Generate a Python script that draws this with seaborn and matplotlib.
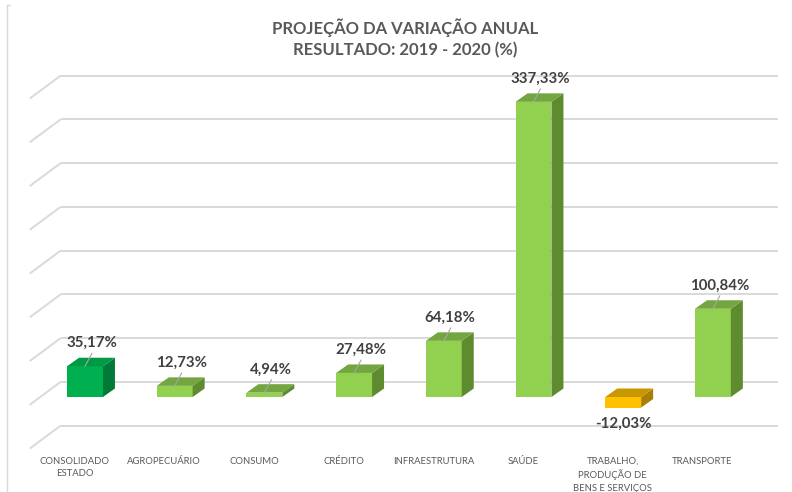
import matplotlib
matplotlib.use("Agg")
import matplotlib.pyplot as plt
import seaborn as sns
import pandas as pd
from matplotlib.patches import Polygon
from matplotlib.lines import Line2D

# ---------------- data ----------------
categories = ["CONSOLIDADO\nESTADO", "AGROPECUÁRIO", "CONSUMO", "CRÉDITO",
              "INFRAESTRUTURA", "SAÚDE", "TRABALHO,\nPRODUÇÃO DE\nBENS E SERVIÇOS",
              "TRANSPORTE"]
values = [35.17, 12.73, 4.94, 27.48, 64.18, 337.33, -12.03, 100.84]
value_labels = ["35,17%", "12,73%", "4,94%", "27,48%", "64,18%", "337,33%",
                "-12,03%", "100,84%"]
grid_ticks = [-50, 0, 50, 100, 150, 200, 250, 300, 350]
title_lines = ["PROJEÇÃO DA VARIAÇÃO ANUAL", "RESULTADO: 2019 - 2020 (%)"]

front_colors = ["#00B050", "#92D050", "#92D050", "#92D050", "#92D050",
                "#92D050", "#FFC000", "#92D050"]
top_colors = ["#009A45", "#73A640", "#73A640", "#73A640", "#73A640",
              "#73A640", "#C99700", "#73A640"]
side_colors = ["#007B37", "#5E8A30", "#5E8A30", "#5E8A30", "#5E8A30",
               "#5E8A30", "#A87F00", "#5E8A30"]

# ---------------- style ----------------
sns.set_style("white")
plt.rcParams["font.family"] = ["Lato", "DejaVu Sans"]

W, H = 792, 492
fig = plt.figure(figsize=(W / 100, H / 100), dpi=100)
ax = fig.add_axes([0, 0, 1, 1])

# pixel geometry of the front plane
PX_CAT = 89.7      # px per category step
PX_VAL = 0.875     # px per unit of value
X0_PX = 85.0       # px of first category center
Y0_PX = 397.0      # px (from top) of value 0 on the front plane


def dx(px):
    return px / PX_CAT


def dy(px):
    return px / PX_VAL


df = pd.DataFrame({"cat": categories, "val": values})
sns.barplot(data=df, x="cat", y="val", hue="cat", palette=front_colors,
            width=0.4, saturation=1, ax=ax, legend=False,
            edgecolor="none", linewidth=0, zorder=3)

ax.set_xlim(-X0_PX / PX_CAT, (W - X0_PX) / PX_CAT)
ax.set_ylim(-(H - Y0_PX) / PX_VAL, Y0_PX / PX_VAL)
ax.axis("off")

n = len(categories)
grid_color = "#D9D9D9"
# back wall offset and floor front offset (px, relative to bar front plane)
BX, BY = 20.6, 15.2
FX, FY = -10.4, -7.8
for v in grid_ticks:
    ax.plot([-0.5 + dx(BX), n - 0.5 + dx(BX)], [v + dy(BY), v + dy(BY)],
            color=grid_color, lw=1.4, zorder=1, solid_capstyle="butt")
    ax.plot([-0.5 + dx(FX), -0.5 + dx(BX)], [v + dy(FY), v + dy(BY)],
            color=grid_color, lw=1.4, zorder=1, solid_capstyle="butt")

# 3D faces
DDX, DDY = dx(12), dy(8.5)
for i, p in enumerate(ax.patches[:n]):
    x0 = p.get_x()
    x1 = x0 + p.get_width()
    y_a = p.get_y()
    y_b = y_a + p.get_height()
    bot, top = min(y_a, y_b), max(y_a, y_b)
    side = Polygon([(x1, bot), (x1 + DDX, bot + DDY), (x1 + DDX, top + DDY), (x1, top)],
                   closed=True, facecolor=side_colors[i], edgecolor="none", zorder=3)
    topf = Polygon([(x0, top), (x1, top), (x1 + DDX, top + DDY), (x0 + DDX, top + DDY)],
                   closed=True, facecolor=top_colors[i], edgecolor="none", zorder=3)
    ax.add_patch(side)
    ax.add_patch(topf)

# value labels + leader lines
for i, (v, lab) in enumerate(zip(values, value_labels)):
    if v >= 0:
        ax.text(i + dx(6.5), v + dy(23), lab, ha="center", va="center",
                fontsize=10.8, fontweight="bold", color="#404040", zorder=5)
        ax.plot([i + dx(7), i], [v + dy(13), v], color="#A6A6A6", lw=0.8, zorder=4)
    else:
        ax.text(i + dx(0.5), v - dy(16.6), lab, ha="center", va="center",
                fontsize=10.8, fontweight="bold", color="#404040", zorder=5)

# category labels on floor front edge
for i, c in enumerate(categories):
    ax.text(i + dx(FX), -50 + dy(FY) - dy(8), c, ha="center", va="top",
            fontsize=6.8, color="#595959", linespacing=1.45, zorder=5)

# title
fig.text(405 / W, 1 - 27.7 / H, title_lines[0], ha="center", va="center",
         fontsize=12, fontweight="bold", color="#595959")
fig.text(405 / W, 1 - 50 / H, title_lines[1], ha="center", va="center",
         fontsize=12, fontweight="bold", color="#595959")

# chart-area border fragment at left
fig.add_artist(Line2D([6.5 / W, 6.5 / W], [1 - 5 / H, 0], transform=fig.transFigure,
                      color="#D9D9D9", lw=1))
fig.add_artist(Line2D([6.5 / W, 10 / W], [1 - 5 / H, 1 - 5 / H], transform=fig.transFigure,
                      color="#D9D9D9", lw=1))

fig.savefig("out.png", dpi=100, facecolor="white")
